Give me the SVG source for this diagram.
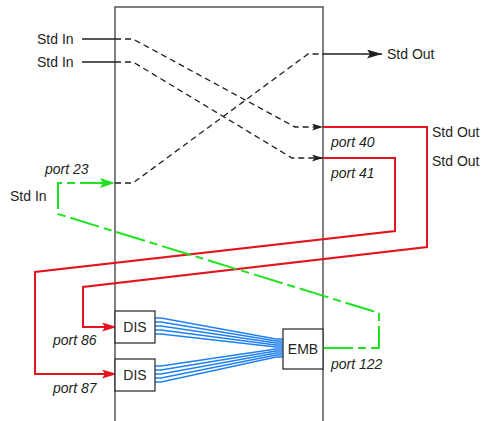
<svg xmlns="http://www.w3.org/2000/svg" width="488" height="421" viewBox="0 0 488 421">
<style>
.frame{fill:none;stroke:#555;stroke-width:1.5}
.box{fill:#fff;stroke:#333;stroke-width:1.3}
.lbl{font-family:"Liberation Sans",Arial,sans-serif;font-size:14px;fill:#231f20}
.it{font-family:"Liberation Sans",Arial,sans-serif;font-size:14px;font-style:italic;fill:#231f20}
.blk{fill:none;stroke:#231f20;stroke-width:1.5}
.dash{fill:none;stroke:#231f20;stroke-width:1.3;stroke-dasharray:6 4}
.red{fill:none;stroke:#e3141e;stroke-width:2}
.grn{fill:none;stroke:#1ee31e;stroke-width:2;stroke-dasharray:30 5 8 5}
.blu{fill:none;stroke:#1f7ff0;stroke-width:1.3}
</style>
<defs>
<marker id="ak" markerUnits="userSpaceOnUse" markerWidth="12" markerHeight="8" refX="11" refY="3.5" orient="auto"><path d="M0,0 L11,3.5 L0,7 L2.5,3.5 z" fill="#231f20" stroke="none"/></marker>
<marker id="akL" markerUnits="userSpaceOnUse" markerWidth="16" markerHeight="10" refX="15" refY="4.5" orient="auto"><path d="M0,0 L15,4.5 L0,9 L3,4.5 z" fill="#231f20" stroke="none"/></marker>
<marker id="ar" markerUnits="userSpaceOnUse" markerWidth="16" markerHeight="10" refX="15" refY="4.5" orient="auto"><path d="M0,0 L15,4.5 L0,9 L3,4.5 z" fill="#e3141e" stroke="none"/></marker>
<marker id="ag" markerUnits="userSpaceOnUse" markerWidth="16" markerHeight="10" refX="15" refY="5" orient="auto"><path d="M0,0 L15,5 L0,10 L3,5 z" fill="#1ee31e" stroke="none"/></marker>
</defs>
<g id="frame">
<path class="frame" d="M115,421 V7 H323 V421"/>
</g>
<g id="connectors">
<path class="blk" d="M82,39 H115"/>
<path class="blk" d="M82,62 H115"/>
<path class="dash" d="M115,39 H133 L295,127 H323" marker-end="url(#ak)"/>
<path class="dash" d="M115,62 H133 L292,158 H323" marker-end="url(#ak)"/>
<path class="dash" d="M115,183 H133 L308,54 H323"/>
<path class="blk" d="M323,54 H382" marker-end="url(#akL)"/>
<path class="red" d="M323,127 H427 V247 L83,287 V327 H117" marker-end="url(#ar)"/>
<path class="red" d="M323,158 H395 V231 L35,272 V374 H117" marker-end="url(#ar)"/>
<path class="grn" d="M323,348 H379 V313 L58,214 V183 H115" marker-end="url(#ag)"/>
<g class="blu">
<path d="M155,318 H161 L276,339 H283"/>
<path d="M155,322 H161 L276,341 H283"/>
<path d="M155,326 H161 L276,343 H283"/>
<path d="M155,330 H161 L276,345 H283"/>
<path d="M155,334 H161 L276,347 H283"/>
<path d="M155,366 H161 L276,349 H283"/>
<path d="M155,370 H161 L276,351 H283"/>
<path d="M155,374 H161 L276,353 H283"/>
<path d="M155,378 H161 L276,355 H283"/>
<path d="M155,382 H161 L276,357 H283"/>
</g>
</g>
<g id="dis1">
<rect class="box" x="115" y="311" width="40" height="32"/>
<text class="lbl" x="135" y="332" text-anchor="middle">DIS</text>
</g>
<g id="dis2">
<rect class="box" x="115" y="359" width="40" height="32"/>
<text class="lbl" x="135" y="380" text-anchor="middle">DIS</text>
</g>
<g id="emb">
<rect class="box" x="283" y="329" width="40" height="40"/>
<text class="lbl" x="303" y="354" text-anchor="middle">EMB</text>
</g>
<g id="labels">
<text class="lbl" x="37" y="44">Std In</text>
<text class="lbl" x="37" y="67">Std In</text>
<text class="lbl" x="10" y="201">Std In</text>
<text class="lbl" x="387" y="59">Std Out</text>
<text class="lbl" x="432" y="137">Std Out</text>
<text class="lbl" x="432" y="166">Std Out</text>
<text class="it" x="45" y="174">port 23</text>
<text class="it" x="331" y="147">port 40</text>
<text class="it" x="331" y="178">port 41</text>
<text class="it" x="53" y="345">port 86</text>
<text class="it" x="53" y="393">port 87</text>
<text class="it" x="331" y="369">port 122</text>
</g>
</svg>
